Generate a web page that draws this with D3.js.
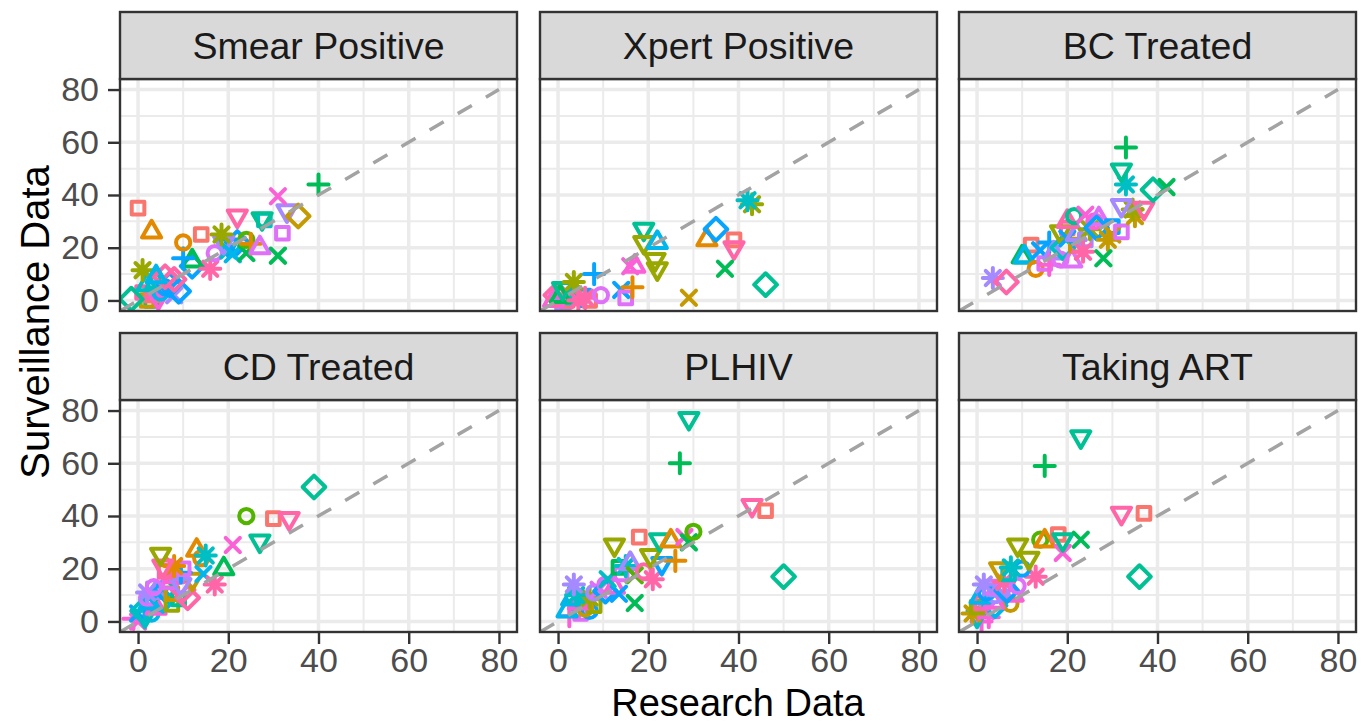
<!DOCTYPE html>
<html><head><meta charset="utf-8">
<script src="https://cdn.jsdelivr.net/npm/d3@7"></script>
<style>
body{margin:0;background:#fff}
svg{display:block;font-family:"Liberation Sans",Arial,Helvetica,sans-serif}
</style>
</head><body>
<svg id="chart" width="1371" height="725"></svg>
<script>
// ---------------- data ----------------
const panelTitles = ["Smear Positive","Xpert Positive","BC Treated","CD Treated","PLHIV","Taking ART"];
const tickValues = [0,20,40,60,80];
const minorTicks = [10,30,50,70];
const axisLimits = [0,80];
const xTitle = "Research Data";
const yTitle = "Surveillance Data";
const colourGroups = d3.range(1,15);   // 14 colour levels
const shapeGroups = d3.range(1,9);     // 8 shape levels
const refLine = [[-4,-4],[80,80]];

// [research, surveillance, colour group, shape group]
const smearPositive = [
 [3,0,7,1],[2,0,3,1],[3,2,1,1],[1,3,14,1],[5,4,13,1],[4.5,1,13,7],[-1.5,0.5,7,6],[8,2,11,5],[5,3,9,2],
 [6,5,10,2],[2,6,8,3],[4,7,8,3],[7,6,10,6],[9,3.5,10,6],[6,9,14,6],[8,8,14,6],
 [1,11.5,4,8],[4,9,9,3],[12,13,10,6],[12,15,6,3],[10,16,10,4],[0,35,1,1],[3,26,2,3],[10,22,2,2],[14,25,1,1],
 [16,12,14,8],[17,18,12,2],[20,21,10,7],[20,19,8,5],[22,22,10,6],[19,22,11,7],[18.5,25,4,8],[21,17.5,9,5],[24,18,6,5],
 [24,23,5,2],[25,21.5,2,4],[27,20,12,3],[22,32,14,7],[28,30.5,8,1],[27.5,31,7,7],[31,17,6,5],
 [32,25.5,12,1],[33,34,11,7],[35.5,32,3,6],[31,39.5,13,5],[40,44,6,4]
];
const xpertPositive = [
 [1,-1,11,1],[7,0,1,1],[3,1,14,1],[2,0,1,1],[-1,0,13,3],[-0.5,2,14,6],[2,3,13,5],[4,1,8,3],[5,2,10,7],
 [0.5,1.5,6,3],[1,4.5,7,7],[3.5,7,4,8],[4.5,0,14,8],[6,1,14,8],[9.5,2,12,2],
 [8,10,10,4],[14,4,10,5],[15,1,12,1],[16.5,5,2,4],[16,13,13,5],[17,13,13,3],[19,27,7,7],[19,22,4,7],
 [21.5,15.5,4,7],[22,12,4,7],[22,22,9,3],[29,1,3,5],[33,23,2,3],[35,27,10,6],[39,23,1,1],[39,20,14,7],
 [37,12,6,5],[46,6,7,6],[43,36.5,4,8],[42,38,8,8]
];
const bcTreated = [
 [3.5,8.5,11,8],[6.5,7,14,6],[12,21,1,1],[10,16.5,6,3],[10.5,16.5,9,3],[13,12,2,2],[15,14,12,1],[14,19,10,5],
 [16,22,10,4],[17,18,11,3],[16,13.5,13,4],[18.5,15.5,12,2],[19,20,8,6],[21,15,12,3],[22,21,3,1],[20,27.5,14,1],
 [18.5,26,4,7],[20,23.5,10,5],[22,25,11,3],[24,23,11,1],[20,30,14,3],[25,27,4,8],
 [23.5,18.5,14,8],[21.5,32,7,2],[24,32.5,13,5],[26,30,13,2],[27,31,12,3],[26.5,27.5,10,6],[30,28,10,1],[29,23,3,8],[30,25,3,5],
 [28,16,6,5],[32,26,12,1],[35,32,3,8],[34.5,34.5,4,8],[32,36,11,7],[37,35,14,7],[39,42,7,6],
 [42,43,6,5],[33,44,8,8],[32,49.5,7,7],[33,58,6,4]
];
const cdTreated = [
 [0,0,13,5],[-1,1,13,4],[0,3,10,5],[3,3,9,2],[1.5,2,8,7],[1,4,8,6],[3,6,10,1],[4,5,13,3],[2.5,7,9,3],
 [2,9,12,2],[5,10,7,5],[4,11,11,3],[6,12,10,6],[5.5,8,9,6],[7.5,6.5,4,1],[9,8.5,7,1],
 [7.5,10.5,3,1],[2,11,11,8],[3.5,13,12,2],[10,12,14,6],[11,9,14,6],[7,15,12,1],[8,17,13,3],[12,16,3,7],
 [9.5,14,11,7],[9.5,18.5,10,4],[10,20,12,1],[6,19,14,1],[8,21,2,8],
 [5.5,21,14,7],[5,25.5,4,7],[13,27,2,3],[14,24,2,2],[14.5,18,9,5],[15,25,8,8],[17,14,14,8],
 [19,20,6,3],[21,29,13,5],[27,30.5,7,7],[24,40,5,2],[30,39,1,1],[33.5,39,14,7],[39,51,7,6]
];
const plhiv = [
 [2.5,2,13,4],[5,3,12,1],[2,4,9,3],[7,4,10,2],[6,5,3,2],[8,6,4,1],[6,8,3,1],[4.5,7,13,3],[3,8.5,9,3],
 [7,9,4,8],[4,10,8,8],[8,11,11,2],[9,12,12,5],[3.5,14,11,8],[10.5,11.5,10,6],
 [10.5,14,12,2],[12.5,13,13,3],[13.5,10.5,10,5],[11,16,8,5],[17,7,6,5],[14,18,12,1],[13.5,20.5,6,1],[15,21,8,8],[16,22,11,3],
 [17,17.5,5,5],[19,19,14,2],[21,16,14,8],[23,22,10,7],[12.5,29,4,7],[20.5,25,4,7],[18,32,1,1],[22.5,31,7,7],[25,30.5,2,3],[26,23,2,4],
 [28,32,13,5],[29,30,6,5],[30,34,5,2],[43,44,14,7],[46,42,1,1],[50,17,7,6],[27,60,6,4],[29,77,7,7]
];
const takingArt = [
 [1,0,13,4],[0,2,8,7],[-1,3,3,8],[2,4,12,5],[2.6,1.6,13,4],[0,5.4,4,1],[4,6,9,6],[1,7,14,1],[7.4,6.7,3,2],
 [3.7,7.3,13,3],[0.7,9.2,9,3],[8,10,13,3],[4,10,11,2],[2,11,10,2],[5,12,11,3],[3,13,12,1],
 [6.6,11.7,10,6],[1.5,14,11,8],[6,15,14,8],[9,13.5,12,2],[7,18,8,1],[13,17,14,8],[10,20,10,2],[5,20,3,7],
 [7.5,20.5,8,8],[11.5,24,4,7],[9,29,4,7],
 [14,31,5,2],[15,30.5,2,3],[18,33,1,1],[19,26,13,5],[19,31,7,7],[23,31,6,5],[32,41,14,7],[37,41,1,1],
 [36,17,7,6],[15,59,6,4],[23,70,7,7]
];
const panelData = [smearPositive,xpertPositive,bcTreated,cdTreated,plhiv,takingArt];

// ---------------- styling / layout ----------------
const huePalette = ["#F8766D","#E38900","#C49A00","#99A800","#53B400","#00BC56","#00C094",
                    "#00BFC4","#00B6EB","#06A4FF","#A58AFF","#DF70F8","#FB61D7","#FF66A8"];
const shapeNames = ["square","circle","triangle","plus","cross","diamond","triangleDown","asterisk"];
const colour = d3.scaleOrdinal().domain(colourGroups).range(huePalette);
const shape = d3.scaleOrdinal().domain(shapeGroups).range(shapeNames);

const colX = [120,540,959], panelW = 397;
const rowTop = [12,333], stripH = 67, panelH = 232;
const span = axisLimits[1]-axisLimits[0];
const dom = [axisLimits[0]-0.05*span, axisLimits[1]+0.05*span];
const x = d3.scaleLinear().domain(dom).range([0,panelW]);
const y = d3.scaleLinear().domain(dom).range([panelH,0]);

const S = 19;
function shapePath(name){
  const R = 0.375*S, p = d3.path();
  if(name==="square"){ const h=R*0.8862; p.rect(-h,-h,2*h,2*h); }
  else if(name==="circle"){ p.moveTo(R,0); p.arc(0,0,R,0,2*Math.PI); }
  else if(name==="triangle"||name==="triangleDown"){
    const s = name==="triangle"?1:-1, r=1.5551*R, xc=1.3468*R, yc=0.7776*R;
    p.moveTo(0,-s*r); p.lineTo(xc,s*yc); p.lineTo(-xc,s*yc); p.closePath();
  }
  else if(name==="plus"){ const h=Math.SQRT2*R; p.moveTo(-h,0);p.lineTo(h,0);p.moveTo(0,-h);p.lineTo(0,h); }
  else if(name==="cross"){ p.moveTo(-R,-R);p.lineTo(R,R);p.moveTo(-R,R);p.lineTo(R,-R); }
  else if(name==="diamond"){ const h=R*1.2533*Math.SQRT2*0.9; p.moveTo(0,-h);p.lineTo(h,0);p.lineTo(0,h);p.lineTo(-h,0);p.closePath(); }
  else if(name==="asterisk"){ const h=Math.SQRT2*R;
    p.moveTo(-R,-R);p.lineTo(R,R);p.moveTo(-R,R);p.lineTo(R,-R);
    p.moveTo(-h,0);p.lineTo(h,0);p.moveTo(0,-h);p.lineTo(0,h); }
  return p.toString();
}

const svg = d3.select("#chart");
svg.append("rect").attr("width",1371).attr("height",725).attr("fill","#fff");
const defs = svg.append("defs");

panelTitles.forEach((title,i)=>{
  const col = i%3, row = Math.floor(i/3);
  const gx = colX[col], sy = rowTop[row], py = sy+stripH;
  const g = svg.append("g").attr("transform",`translate(${gx},${py})`);
  defs.append("clipPath").attr("id","clip"+i).append("rect").attr("width",panelW).attr("height",panelH);

  g.append("rect").attr("width",panelW).attr("height",panelH).attr("fill","#fff");
  const grid = g.append("g");
  grid.append("g").selectAll("line").data(minorTicks).join("line")
    .attr("x1",d=>x(d)).attr("x2",d=>x(d)).attr("y1",0).attr("y2",panelH)
    .attr("stroke","#EBEBEB").attr("stroke-width",2);
  grid.append("g").selectAll("line").data(minorTicks).join("line")
    .attr("y1",d=>y(d)).attr("y2",d=>y(d)).attr("x1",0).attr("x2",panelW)
    .attr("stroke","#EBEBEB").attr("stroke-width",2);
  grid.append("g").selectAll("line").data(tickValues).join("line")
    .attr("x1",d=>x(d)).attr("x2",d=>x(d)).attr("y1",0).attr("y2",panelH)
    .attr("stroke","#EBEBEB").attr("stroke-width",3.5);
  grid.append("g").selectAll("line").data(tickValues).join("line")
    .attr("y1",d=>y(d)).attr("y2",d=>y(d)).attr("x1",0).attr("x2",panelW)
    .attr("stroke","#EBEBEB").attr("stroke-width",3.5);

  const body = g.append("g").attr("clip-path",`url(#clip${i})`);
  body.selectAll("path.pt").data(panelData[i]).join("path").attr("class","pt")
    .attr("transform",d=>`translate(${x(d[0])},${y(d[1])})`)
    .attr("d",d=>shapePath(shape(d[3])))
    .attr("fill","none").attr("stroke",d=>colour(d[2]))
    .attr("stroke-width",4).attr("stroke-linecap","round").attr("stroke-linejoin","round");
  body.append("path").datum(refLine)
    .attr("d",d3.line().x(d=>x(d[0])).y(d=>y(d[1])))
    .attr("fill","none").attr("stroke","#A3A3A3").attr("stroke-width",3.5)
    .attr("stroke-dasharray","16.3 16.3");

  g.append("rect").attr("width",panelW).attr("height",panelH)
    .attr("fill","none").attr("stroke","#333333").attr("stroke-width",2.4);

  // strip
  svg.append("rect").attr("x",gx).attr("y",sy).attr("width",panelW).attr("height",stripH)
    .attr("fill","#D9D9D9").attr("stroke","#333333").attr("stroke-width",2.4);
  svg.append("text").attr("x",gx+panelW/2).attr("y",sy+stripH/2+0.358*37.5)
    .attr("text-anchor","middle").attr("font-size",37.5).attr("fill","#1A1A1A").text(title);

  if(col===0){
    const ay = g.append("g").call(d3.axisLeft(y).tickValues(tickValues).tickSize(12).tickPadding(9));
    ay.select(".domain").remove();
    ay.selectAll(".tick line").attr("stroke","#333333").attr("stroke-width",2.4);
    ay.selectAll(".tick text").attr("font-size",34).attr("fill","#4D4D4D").attr("font-family","Liberation Sans, Arial, sans-serif");
  }
  if(row===1){
    const ax = g.append("g").attr("transform",`translate(0,${panelH})`)
      .call(d3.axisBottom(x).tickValues(tickValues).tickSize(12).tickPadding(4));
    ax.select(".domain").remove();
    ax.selectAll(".tick line").attr("stroke","#333333").attr("stroke-width",2.4);
    ax.selectAll(".tick text").attr("font-size",34).attr("fill","#4D4D4D").attr("font-family","Liberation Sans, Arial, sans-serif");
  }
});

svg.append("text").attr("x",(colX[0]+colX[2]+panelW)/2).attr("y",716)
  .attr("text-anchor","middle").attr("font-size",38).attr("fill","#000").text(xTitle);
svg.append("text").attr("transform",`translate(49,${(rowTop[0]+rowTop[1]+stripH+panelH)/2}) rotate(-90)`)
  .attr("text-anchor","middle").attr("font-size",40).attr("fill","#000").text(yTitle);
</script>
</body></html>
